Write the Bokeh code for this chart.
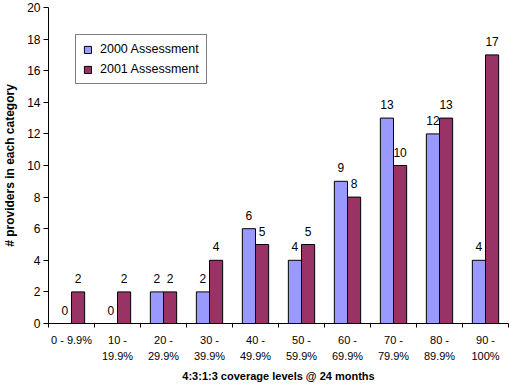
from bokeh.plotting import figure
from bokeh.models import Range1d, FixedTicker, Legend, LegendItem, ColumnDataSource
from bokeh.core.properties import value
from bokeh.embed import file_html
from bokeh.resources import INLINE

# ---- data ----
categories = ["0 - 9.9%", "10 -\n19.9%", "20 -\n29.9%", "30 -\n39.9%", "40 -\n49.9%",
              "50 -\n59.9%", "60 -\n69.9%", "70 -\n79.9%", "80 -\n89.9%", "90 -\n100%"]
series_names = ["2000 Assessment", "2001 Assessment"]
values_2000 = [0, 0, 2, 2, 6, 4, 9, 13, 12, 4]
values_2001 = [2, 2, 2, 4, 5, 5, 8, 10, 13, 17]
y_ticks = list(range(0, 21, 2))
x_title = "4:3:1:3 coverage levels @ 24 months"
y_title = "# providers in each category"

# ---- style ----
FONT = "Liberation Sans"
COLORS = ["#9999FF", "#993366"]
BAR_W = 1 / 3.5

n = len(categories)
centers = [i + 0.5 for i in range(n)]

p = figure(width=514, height=387, output_backend="svg", toolbar_location=None,
           x_range=Range1d(0, n), y_range=Range1d(0, 20),
           min_border_top=7, min_border_right=6, min_border_left=0, min_border_bottom=64)
p.outline_line_color = None
p.background_fill_color = "white"
p.border_fill_color = "white"
p.xgrid.visible = False
p.ygrid.visible = False

renderers = []
for k, vals in enumerate([values_2000, values_2001]):
    xs = [c + (k - 0.5) * BAR_W for c in centers]
    src = ColumnDataSource(dict(x=xs, top=vals, lab=[str(v) for v in vals]))
    r = p.vbar(x="x", top="top", width=BAR_W, bottom=0, source=src,
               fill_color=COLORS[k], line_color="black", line_width=1)
    renderers.append(r)
    p.text(x="x", y="top", text="lab", source=src, text_align="center",
           text_baseline="bottom", y_offset=-9, text_font=value(FONT),
           text_font_size="12px", text_color="black")

# x axis
xa = p.xaxis[0]
xa.ticker = FixedTicker(ticks=centers, minor_ticks=list(range(n + 1)))
xa.major_label_overrides = {c: lab for c, lab in zip(centers, categories)}
xa.major_tick_line_color = None
xa.major_tick_out = 4
xa.major_tick_in = 0
xa.minor_tick_line_color = "black"
xa.minor_tick_out = 4
xa.minor_tick_in = 0
xa.major_label_standoff = 6
xa.major_label_text_font = FONT
xa.major_label_text_font_size = "11px"
xa.major_label_text_line_height = 1.35
xa.major_label_text_color = "black"
xa.axis_line_color = "black"
xa.axis_label = x_title
xa.axis_label_text_font = FONT
xa.axis_label_text_font_size = "11px"
xa.axis_label_text_font_style = "bold"
xa.axis_label_text_color = "black"
xa.axis_label_standoff = 5

# y axis
ya = p.yaxis[0]
ya.ticker = FixedTicker(ticks=y_ticks, minor_ticks=[])
ya.major_tick_out = 5
ya.major_tick_in = 0
ya.major_tick_line_color = "black"
ya.major_label_standoff = 3
ya.major_label_text_font = FONT
ya.major_label_text_font_size = "12px"
ya.major_label_text_color = "black"
ya.axis_line_color = "black"
ya.axis_label = y_title
ya.axis_label_text_font = FONT
ya.axis_label_text_font_size = "12px"
ya.axis_label_text_font_style = "bold"
ya.axis_label_text_color = "black"
ya.axis_label_standoff = 7

legend = Legend(items=[LegendItem(label=series_names[i], renderers=[renderers[i]]) for i in range(2)],
                location="top_left", margin=27, padding=7, spacing=6,
                glyph_width=9, glyph_height=9, label_height=14, label_standoff=8,
                label_text_font=FONT, label_text_font_size="12.5px", label_text_color="black",
                border_line_color="black", border_line_width=1,
                background_fill_color="white", background_fill_alpha=1)
p.add_layout(legend)

open("out.html", "w").write(file_html(p, INLINE))
